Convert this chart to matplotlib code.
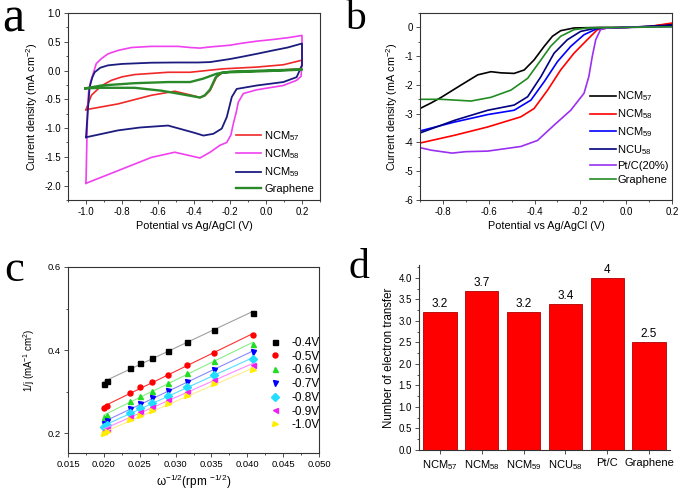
import numpy as np
import matplotlib
matplotlib.use("Agg")
import matplotlib.pyplot as plt
from matplotlib.ticker import MultipleLocator, FormatStrFormatter

plt.rcParams['font.family'] = ['Liberation Sans', 'DejaVu Sans']
plt.rcParams['mathtext.default'] = 'regular'
plt.rcParams['axes.unicode_minus'] = False

# ---- panel a: cyclic voltammetry (closed loops: anodic then cathodic branch)
cv_labels = ["NCM$_{57}$", "NCM$_{58}$", "NCM$_{59}$", "Graphene"]
cv_colors = ["#f02828", "#f040f0", "#1c1c80", "#2a8a2a"]

ncm57_x = [-1.0, -0.985, -0.97, -0.933, -0.9, -0.859, -0.8, -0.73, -0.544, -0.422, -0.3, -0.237,
           -0.052, 0.096, 0.2, 0.2, 0.189, 0.04, -0.144, -0.237, -0.274, -0.311, -0.34, -0.367,
           -0.4, -0.507, -0.637, -0.822, -1.0]
ncm57_y = [-0.68, -0.55, -0.43, -0.32, -0.24, -0.17, -0.11, -0.07, -0.03, -0.03, 0.01, 0.03,
           0.06, 0.10, 0.18, 0.08, 0.03, 0.0, -0.01, -0.03, -0.11, -0.35, -0.44, -0.47,
           -0.44, -0.36, -0.43, -0.58, -0.68]

ncm58_x = [-1.0, -0.995, -0.99, -0.985, -0.975, -0.961, -0.943, -0.915, -0.878, -0.822, -0.748,
           -0.637, -0.489, -0.42, -0.367, -0.311, -0.2, -0.144, -0.052, 0.04, 0.12, 0.2,
           0.2, 0.195, 0.17, 0.096, -0.052, -0.126, -0.154, -0.165, -0.182, -0.195, -0.218,
           -0.256, -0.311, -0.367, -0.422, -0.507, -0.637, -0.822, -1.0]
ncm58_y = [-1.96, -1.2, -0.6, -0.35, -0.2, -0.06, 0.12, 0.205, 0.29, 0.35, 0.40,
           0.42, 0.42, 0.40, 0.39, 0.41, 0.44, 0.47, 0.51, 0.54, 0.57, 0.61,
           0.2, -0.1, -0.17, -0.26, -0.335, -0.40, -0.55, -0.72, -0.93, -1.12, -1.25,
           -1.30, -1.42, -1.52, -1.48, -1.42, -1.51, -1.74, -1.96]

ncm59_x = [-1.0, -0.99, -0.98, -0.965, -0.952, -0.92, -0.878, -0.8, -0.637, -0.5, -0.378, -0.311,
           -0.2, -0.144, -0.052, 0.04, 0.12, 0.2, 0.2, 0.17, 0.096, -0.052, -0.163, -0.19,
           -0.218, -0.246, -0.293, -0.348, -0.4, -0.544, -0.7, -0.822, -1.0]
ncm59_y = [-1.16, -0.7, -0.29, -0.12, -0.03, 0.05, 0.09, 0.115, 0.136, 0.14, 0.14, 0.147,
           0.2, 0.233, 0.29, 0.35, 0.40, 0.47, 0.09, -0.115, -0.20, -0.26, -0.32, -0.46,
           -0.81, -1.01, -1.10, -1.13, -1.08, -0.956, -0.99, -1.04, -1.16]

graph_cv_x = [-1.004, -0.915, -0.73, -0.544, -0.422, -0.348, -0.274, -0.2, 0.0, 0.2,
              0.2, 0.0, -0.2, -0.25, -0.28, -0.311, -0.34, -0.367, -0.4, -0.489, -0.582,
              -0.73, -0.915, -1.004]
graph_cv_y = [-0.31, -0.26, -0.22, -0.20, -0.20, -0.14, -0.055, -0.02, 0.0, 0.02,
              0.015, -0.01, -0.03, -0.04, -0.12, -0.33, -0.43, -0.47, -0.45, -0.40, -0.35,
              -0.30, -0.30, -0.31]

# ---- panel b: linear sweep voltammetry
lsv_labels = ["NCM$_{57}$", "NCM$_{58}$", "NCM$_{59}$", "NCU$_{58}$", "Pt/C(20%)", "Graphene"]
lsv_colors = ["#000000", "#ff0000", "#0000ff", "#000080", "#9a30f0", "#228b22"]

lsv57_x = [-0.9, -0.85, -0.807, -0.72, -0.648, -0.59, -0.547, -0.489, -0.445, -0.402, -0.358,
           -0.322, -0.286, -0.228, -0.112, 0.0, 0.1, 0.2]
lsv57_y = [-2.82, -2.62, -2.43, -2.0, -1.65, -1.54, -1.58, -1.60, -1.48, -1.13, -0.66,
           -0.31, -0.115, -0.02, 0.0, 0.0, 0.03, 0.12]
lsv58_x = [-0.9, -0.749, -0.604, -0.46, -0.402, -0.343, -0.286, -0.228, -0.17, -0.126, -0.08,
           0.0, 0.1, 0.2]
lsv58_y = [-4.02, -3.75, -3.46, -3.11, -2.82, -2.18, -1.48, -0.90, -0.43, -0.08, -0.02,
           0.0, 0.03, 0.15]
lsv59_x = [-0.9, -0.749, -0.604, -0.489, -0.416, -0.358, -0.3, -0.242, -0.184, -0.126, 0.0, 0.2]
lsv59_y = [-3.60, -3.29, -3.03, -2.88, -2.53, -1.89, -1.19, -0.66, -0.255, -0.04, 0.0, 0.05]
ncu58_x = [-0.9, -0.749, -0.604, -0.489, -0.43, -0.372, -0.315, -0.257, -0.199, -0.141, 0.0, 0.2]
ncu58_y = [-3.67, -3.23, -2.88, -2.70, -2.41, -1.71, -0.90, -0.43, -0.14, -0.04, 0.0, 0.08]
ptc_x = [-0.9, -0.85, -0.76, -0.7, -0.604, -0.46, -0.387, -0.315, -0.242, -0.184, -0.163,
         -0.148, -0.133, -0.112, -0.09, -0.05, 0.0, 0.2]
ptc_y = [-4.18, -4.27, -4.37, -4.32, -4.30, -4.14, -3.93, -3.40, -2.88, -2.29, -1.71,
         -1.01, -0.43, -0.08, -0.03, -0.01, 0.0, 0.02]
graph_lsv_x = [-0.9, -0.807, -0.677, -0.59, -0.503, -0.43, -0.372, -0.33, -0.286, -0.228,
               -0.17, 0.0, 0.2]
graph_lsv_y = [-2.50, -2.50, -2.56, -2.43, -2.18, -1.77, -1.13, -0.66, -0.31, -0.08,
               -0.02, 0.0, 0.02]

# ---- panel c: Koutecky-Levich
kl_x = [0.0200, 0.0204, 0.0236, 0.0250, 0.0267, 0.0289, 0.0316, 0.0354, 0.0408]
kl_labels = ["-0.4V", "-0.5V", "-0.6V", "-0.7V", "-0.8V", "-0.9V", "-1.0V"]
kl_04 = [0.318, 0.326, 0.356, 0.368, 0.381, 0.398, 0.420, 0.449, 0.490]
kl_05 = [0.260, 0.266, 0.297, 0.310, 0.323, 0.341, 0.364, 0.394, 0.437]
kl_06 = [0.238, 0.244, 0.277, 0.289, 0.302, 0.320, 0.344, 0.373, 0.415]
kl_07 = [0.223, 0.228, 0.259, 0.271, 0.285, 0.302, 0.324, 0.353, 0.395]
kl_08 = [0.214, 0.219, 0.248, 0.260, 0.273, 0.290, 0.311, 0.339, 0.379]
kl_09 = [0.206, 0.211, 0.239, 0.250, 0.263, 0.279, 0.300, 0.327, 0.365]
kl_10 = [0.197, 0.203, 0.231, 0.242, 0.254, 0.270, 0.290, 0.317, 0.353]
kl_markers = ["s", "o", "^", "v", "D", "<", ">"]
kl_colors = ["#000000", "#ff0000", "#22dd22", "#0000ff", "#22ddff", "#ee22ee", "#ffee00"]
kl_line_colors = ["#a0a0a0", "#ff3030", "#88ee88", "#8888ff", "#55ddff", "#ff88ff", "#ffee88"]

# ---- panel d: electron transfer number
bar_labels = ["NCM$_{57}$", "NCM$_{58}$", "NCM$_{59}$", "NCU$_{58}$", "Pt/C", "Graphene"]
bar_values = [3.2, 3.7, 3.2, 3.4, 4.0, 2.5]
bar_texts = ["3.2", "3.7", "3.2", "3.4", "4", "2.5"]

W, H = 685, 493
fig = plt.figure(figsize=(W / 100, H / 100), dpi=100)


def rect(l, t, r, b):
    return [l / W, 1 - b / H, (r - l) / W, (b - t) / H]


def style(ax, box=True, size=7):
    for s in ax.spines.values():
        s.set_linewidth(0.8)
        s.set_color("#333333")
    if not box:
        ax.spines['top'].set_visible(False)
        ax.spines['right'].set_visible(False)
    ax.tick_params(which='both', direction='out', labelsize=size, width=0.6, color="#333333",
                   top=False, right=False, pad=2)
    ax.tick_params(which='major', length=3)
    ax.tick_params(which='minor', length=1.6)


lab = 7.8

# a
axa = fig.add_axes(rect(68, 13, 320, 200))
cv_xs = [ncm57_x, ncm58_x, ncm59_x, graph_cv_x]
cv_ys = [ncm57_y, ncm58_y, ncm59_y, graph_cv_y]
cv_lw = [1.2, 1.2, 1.3, 1.7]
for xs, ys, c, l, w in zip(cv_xs, cv_ys, cv_colors, cv_labels, cv_lw):
    axa.plot(xs, ys, color=c, lw=w, label=l)
axa.set_xlim(-1.1, 0.3)
axa.set_ylim(-2.25, 1.0)
axa.xaxis.set_major_locator(MultipleLocator(0.2))
axa.xaxis.set_minor_locator(MultipleLocator(0.1))
axa.yaxis.set_major_locator(MultipleLocator(0.5))
axa.yaxis.set_minor_locator(MultipleLocator(0.25))
axa.xaxis.set_major_formatter(FormatStrFormatter('%.1f'))
axa.yaxis.set_major_formatter(FormatStrFormatter('%.1f'))
style(axa)
axa.set_xlabel("Potential vs Ag/AgCl (V)", fontsize=lab, labelpad=3)
axa.set_ylabel("Current density (mA cm$^{-2}$)", fontsize=lab, labelpad=3)
axa.legend(loc='upper left', bbox_to_anchor=(0.665, 0.38), frameon=False, fontsize=8,
           handlelength=2.3, handletextpad=0.3, labelspacing=0.4, borderpad=0, borderaxespad=0)

# b
axb = fig.add_axes(rect(420, 13, 672, 200))
lsv_xs = [lsv57_x, lsv58_x, lsv59_x, ncu58_x, ptc_x, graph_lsv_x]
lsv_ys = [lsv57_y, lsv58_y, lsv59_y, ncu58_y, ptc_y, graph_lsv_y]
for xs, ys, c, l in zip(lsv_xs, lsv_ys, lsv_colors, lsv_labels):
    axb.plot(xs, ys, color=c, lw=1.2, label=l)
axb.set_xlim(-0.9, 0.2)
axb.set_ylim(-6, 0.5)
axb.xaxis.set_major_locator(MultipleLocator(0.2))
axb.xaxis.set_minor_locator(MultipleLocator(0.1))
axb.yaxis.set_major_locator(MultipleLocator(1))
axb.yaxis.set_minor_locator(MultipleLocator(0.5))
axb.xaxis.set_major_formatter(FormatStrFormatter('%.1f'))
style(axb)
axb.set_xlabel("Potential vs Ag/AgCl (V)", fontsize=lab, labelpad=3)
axb.set_ylabel("Current density (mA cm$^{-2}$)", fontsize=lab, labelpad=3)
axb.legend(loc='upper left', bbox_to_anchor=(0.675, 0.59), frameon=False, fontsize=8,
           handlelength=2.3, handletextpad=0.15, labelspacing=0.36, borderpad=0, borderaxespad=0)

# c
axc = fig.add_axes(rect(68, 267, 319, 453))
kl_sets = [kl_04, kl_05, kl_06, kl_07, kl_08, kl_09, kl_10]
xfit = np.array([kl_x[0], kl_x[-1]])
for ys, m, c, lc, l in zip(kl_sets, kl_markers, kl_colors, kl_line_colors, kl_labels):
    k, b0 = np.polyfit(kl_x, ys, 1)
    axc.plot(xfit, k * xfit + b0, color=lc, lw=0.8)
    axc.plot(kl_x, ys, ls='none', marker=m, color=c, ms=3.6, mec=c, label=l)
axc.set_xlim(0.015, 0.050)
axc.set_ylim(0.152, 0.6)
axc.xaxis.set_major_locator(MultipleLocator(0.005))
axc.xaxis.set_minor_locator(MultipleLocator(0.0025))
axc.yaxis.set_major_locator(MultipleLocator(0.2))
axc.yaxis.set_minor_locator(MultipleLocator(0.1))
axc.xaxis.set_major_formatter(FormatStrFormatter('%.3f'))
axc.yaxis.set_major_formatter(FormatStrFormatter('%.1f'))
style(axc, size=6.8)
axc.set_xlabel("ω$^{-1/2}$(rpm $^{-1/2}$)", fontsize=8.5, labelpad=3)
axc.set_ylabel("1/j (mA$^{-1}$ cm$^{2}$)", fontsize=7, labelpad=8)
axc.legend(loc='upper left', bbox_to_anchor=(0.8, 0.625), frameon=False, fontsize=8.5,
           handlelength=1.0, handletextpad=0.9, labelspacing=0.15, borderpad=0, borderaxespad=0)

# d
axd = fig.add_axes(rect(419, 265, 670, 450))
pos = np.arange(len(bar_values))
axd.bar(pos, bar_values, width=0.8, color="#ff0000", edgecolor="#b00000", linewidth=0.6)
for p, v, t in zip(pos, bar_values, bar_texts):
    axd.text(p, v + 0.05, t, ha='center', va='bottom', fontsize=8.5)
axd.set_xlim(-0.5, 5.5)
axd.set_ylim(0, 4.3)
axd.set_xticks(pos)
axd.set_xticklabels(bar_labels)
axd.yaxis.set_major_locator(MultipleLocator(0.5))
axd.yaxis.set_minor_locator(MultipleLocator(0.25))
axd.yaxis.set_major_formatter(FormatStrFormatter('%.1f'))
style(axd, box=False)
axd.tick_params(axis='x', labelsize=8, pad=3)
axd.set_ylabel("Number of electron transfer", fontsize=8.3, labelpad=3)

# panel letters
serif = ['Liberation Serif', 'DejaVu Serif']
for ch, x, y, fs in [("a", 2, 32, 36), ("b", 345, 29, 30), ("c", 4, 281, 32), ("d", 349, 278, 30)]:
    fig.text(x / W, 1 - y / H, ch, fontsize=fs, family=serif, ha='left', va='baseline')

fig.savefig("out.png", dpi=100)
